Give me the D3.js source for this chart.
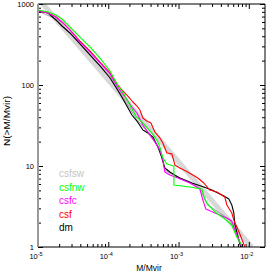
<!DOCTYPE html>
<html>
<head>
<meta charset="UTF-8">
<script src="https://d3js.org/d3.v7.min.js"></script>
<style>
  body { margin: 0; background: #fff; }
  text { font-family: "Liberation Sans", Arial, sans-serif; }
</style>
</head>
<body>
<svg id="chart" width="274" height="274"></svg>
<script>
// N(>M/Mvir) curves, values
var dmM = [1e-5,1.39e-5,1.80e-5,2.19e-5,2.85e-5,3.96e-5,5.48e-5,7.62e-5,1.06e-4,1.33e-4,1.56e-4,1.84e-4,2.17e-4,2.56e-4,3.11e-4,3.67e-4,4.32e-4,5.08e-4,5.80e-4,6.39e-4,7.53e-4,1.04e-3,1.55e-3,2.29e-3,2.98e-3,4.42e-3,5.20e-3,5.73e-3,6.12e-3,6.32e-3,6.98e-3,7.69e-3];
var dmN = [820,774,635,535,439,321,235,172,122,89.3,71.1,55.0,42.6,35.9,27.8,25.5,22.8,17.2,12.6,9.45,8.43,7.11,6.17,5.50,5.05,4.26,3.91,3.30,2.63,1.92,1.37,1];

var csfM = [1e-5,1.39e-5,1.80e-5,2.19e-5,2.85e-5,3.96e-5,5.48e-5,7.62e-5,1.06e-4,1.33e-4,1.56e-4,1.90e-4,2.24e-4,2.56e-4,2.82e-4,3.11e-4,3.55e-4,4.04e-4,4.61e-4,5.43e-4,5.98e-4,6.82e-4,8.04e-4,8.87e-4,1.04e-3,1.27e-3,1.60e-3,1.88e-3,2.29e-3,2.79e-3,3.51e-3,4.56e-3,4.87e-3,5.73e-3,6.12e-3,7.45e-3,8.78e-3];
var csfN = [820,774,691,600,478,349,263,192,141,103,86.8,73.1,61.7,55.0,49.1,39.1,35.9,33.9,26.3,22.2,19.2,14.5,14.1,10.3,9.45,8.68,7.74,7.11,6.17,5.05,4.77,4.14,3.30,2.63,2.15,1.45,1];

var csfcM = [1e-5,1.39e-5,1.80e-5,2.19e-5,2.85e-5,3.96e-5,5.48e-5,7.62e-5,1.06e-4,1.33e-4,1.73e-4,2.17e-4,2.56e-4,3.11e-4,3.91e-4,4.61e-4,5.43e-4,5.98e-4,6.39e-4,7.53e-4,9.79e-4,1.45e-3,2.01e-3,2.22e-3,2.45e-3,3.29e-3,4.87e-3,5.73e-3,6.53e-3,7.95e-3];
var csfcN = [820,774,691,600,478,339,255,187,137,97.2,71.1,53.5,45.1,32.1,24.1,19.8,15.8,11.9,8.43,7.74,7.11,6.17,5.20,3.80,2.94,2.63,2.28,2.09,1.53,1];

var csfnwM = [1e-5,1.39e-5,1.80e-5,2.19e-5,2.85e-5,3.96e-5,5.48e-5,7.62e-5,1.06e-4,1.33e-4,1.67e-4,2.03e-4,2.47e-4,3.11e-4,4.18e-4,4.92e-4,5.43e-4,5.98e-4,6.82e-4,8.59e-4,8.59e-4,1.45e-3,2.15e-3,2.29e-3,2.53e-3,3.29e-3,4.56e-3,5.73e-3,6.75e-3,8.22e-3];
var csfnwN = [843,797,731,653,520,391,295,215,149,103,77.4,56.6,41.4,33.9,25.5,20.9,17.2,12.6,10.6,10.0,5.83,5.50,5.20,4.26,3.49,2.71,2.22,1.87,1.33,1];

var csfswM = [1e-5,1.80e-5,3.96e-5,1.06e-4,2.56e-4,3.91e-4,5.43e-4,6.39e-4,8.87e-4,1.45e-3,2.01e-3,2.37e-3,2.61e-3,5.37e-3,6.53e-3,7.69e-3];
var csfswN = [820,653,321,129,37.0,24.8,15.8,8.93,7.53,6.34,5.35,3.80,3.30,2.15,1.53,1];

// power-law band behind the curves
var bandM = [1e-5, 1.1e-2];
var bandN = [1175, 1];

var legendNames = ["csfsw", "csfnw", "csfc", "csf", "dm"];
var legendColors = ["#c4c4c4", "#00ff00", "#ff00ff", "#ff0000", "#000000"];

var xMajor = [1e-5, 1e-4, 1e-3, 1e-2];
var xLabels = ["-5", "-4", "-3", "-2"];
var yMajor = [1, 10, 100, 1000];
var yLabels = ["1", "10", "100", "1000"];

var padL = 38, padR = 265, padT = 4, padB = 247;

var svg = d3.select("#chart");
var x = d3.scaleLog().domain([1e-5, 1.7e-2]).range([padL, padR]);
var y = d3.scaleLog().domain([1, 1000]).range([padB, padT]);

function minors(lo, hi) {
    var out = [];
    for (var e = lo; e < hi; e++) {
        for (var k = 2; k <= 9; k++) out.push(k * Math.pow(10, e));
    }
    return out;
}
var xMinor = minors(-5, -2).concat([2e-2]).filter(function(v){ return v <= 1.7e-2; });
var yMinor = minors(0, 3);

svg.append("clipPath").attr("id", "clip")
    .append("rect").attr("x", padL).attr("y", padT)
    .attr("width", padR - padL).attr("height", padB - padT);

var plot = svg.append("g").attr("clip-path", "url(#clip)");

function zip(ms, ns) { return ms.map(function(m, i){ return [m, ns[i]]; }); }
var line = d3.line().x(function(d){ return x(d[0]); }).y(function(d){ return y(d[1]); });

plot.append("path").attr("d", line(zip(bandM, bandN)))
    .attr("fill", "none").attr("stroke", "#d8d8d8").attr("stroke-width", 5);

var series = [
    [csfswM, csfswN, "#a8a8a8"],
    [dmM, dmN, "#000000"],
    [csfM, csfN, "#ff0000"],
    [csfcM, csfcN, "#ff00ff"],
    [csfnwM, csfnwN, "#00ff00"]
];
series.forEach(function(s){
    plot.append("path").attr("d", line(zip(s[0], s[1])))
        .attr("fill", "none").attr("stroke", s[2]).attr("stroke-width", 1.1)
        .attr("stroke-linejoin", "round");
});

// axes, ticks pointing inward
function addAxis(axis, tx, ty, vals, len) {
    var g = svg.append("g").attr("transform", "translate(" + tx + "," + ty + ")")
        .call(axis.tickValues(vals).tickSize(-len).tickFormat(""));
    g.select(".domain").remove();
    g.selectAll("line").attr("stroke", "#000").attr("stroke-width", 1);
    return g;
}
addAxis(d3.axisBottom(x), 0, padB, xMajor, 5);
addAxis(d3.axisBottom(x), 0, padB, xMinor, 3);
addAxis(d3.axisTop(x), 0, padT, xMajor, 5);
addAxis(d3.axisTop(x), 0, padT, xMinor, 3);
addAxis(d3.axisLeft(y), padL, 0, yMajor, 5);
addAxis(d3.axisLeft(y), padL, 0, yMinor, 3);
addAxis(d3.axisRight(y), padR, 0, yMajor, 5);
addAxis(d3.axisRight(y), padR, 0, yMinor, 3);

svg.append("line").attr("x1", padL).attr("x2", padR).attr("y1", padT).attr("y2", padT)
    .attr("stroke", "#000").attr("stroke-width", 1);
svg.append("line").attr("x1", padL).attr("x2", padR).attr("y1", padB).attr("y2", padB)
    .attr("stroke", "#000").attr("stroke-width", 1);
svg.append("line").attr("x1", padR).attr("x2", padR).attr("y1", padT).attr("y2", padB)
    .attr("stroke", "#000").attr("stroke-width", 1);
svg.append("line").attr("x1", padL).attr("x2", padL).attr("y1", padT).attr("y2", padB)
    .attr("stroke", "#999").attr("stroke-width", 2);

// tick labels
xMajor.forEach(function(v, i){
    var t = svg.append("text").attr("x", x(v) - 2).attr("y", 259)
        .attr("text-anchor", "middle").attr("font-size", 7.5).attr("fill", "#000");
    t.append("tspan").text("10");
    t.append("tspan").attr("dy", -3).attr("font-size", 5.5).text(xLabels[i]);
});
yMajor.forEach(function(v, i){
    svg.append("text").attr("x", 34).attr("y", y(v) + 2.5)
        .attr("text-anchor", "end").attr("font-size", 7.5).attr("fill", "#000")
        .text(yLabels[i]);
});

// axis titles
svg.append("text").attr("x", 149).attr("y", 271)
    .attr("text-anchor", "middle").attr("font-size", 8.5).text("M/Mvir");
svg.append("text").attr("transform", "translate(10,121) rotate(-90)")
    .attr("text-anchor", "middle").attr("font-size", 8.5)
    .attr("textLength", 50).attr("lengthAdjust", "spacingAndGlyphs")
    .text("N(>M/Mvir)");

// legend
legendNames.forEach(function(n, i){
    svg.append("text").attr("x", 59).attr("y", 177 + i * 13.5)
        .attr("font-size", 10).attr("fill", legendColors[i]).text(n);
});
</script>
</body>
</html>
